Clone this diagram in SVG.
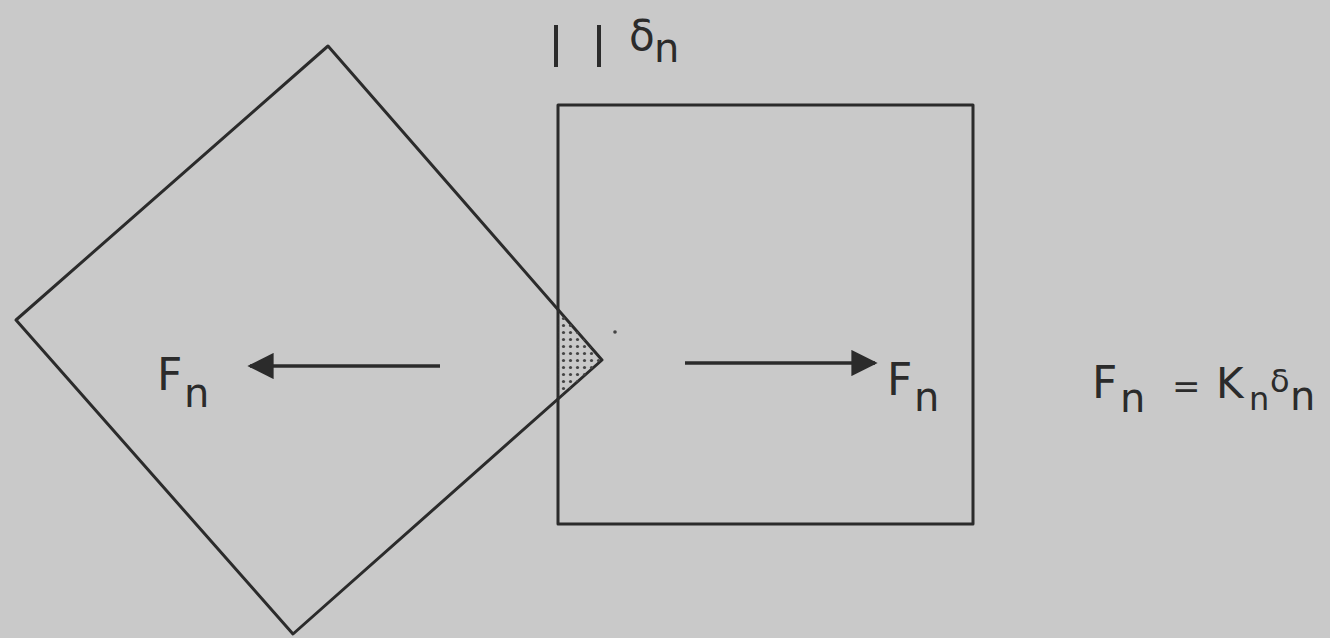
<svg xmlns="http://www.w3.org/2000/svg" width="1330" height="638" viewBox="0 0 1330 638">
  <defs>
    <style>
      .ln { fill: none; stroke: #2b2b2b; stroke-width: 3; stroke-linejoin: round; }
      .ar { stroke: #2b2b2b; stroke-width: 3.5; fill: none; }
      .t { font-family: "DejaVu Sans", "Liberation Sans", sans-serif; fill: #2b2b2b; }
      .big { font-size: 44px; }
      .sub { font-size: 40px; }
    </style>
    <pattern id="dots" width="7" height="7" patternUnits="userSpaceOnUse">
      <circle cx="3.5" cy="3.5" r="1.6" fill="#444"/>
    </pattern>
    <marker id="head" viewBox="0 0 10 10" refX="9" refY="5" markerWidth="9" markerHeight="7.5" markerUnits="strokeWidth" orient="auto">
      <path d="M0,0 L10,5 L0,10 z" fill="#2b2b2b"/>
    </marker>
  </defs>
  <rect width="1330" height="638" fill="#c9c9c9"/>

  <g id="diamond-block">
    <polygon class="ln" points="328,46 602,360 293,634 16,320"/>
  </g>

  <g id="square-block">
    <rect class="ln" x="558" y="105" width="415" height="419"/>
  </g>

  <g id="overlap">
    <polygon points="558,309 602,360 558,399" fill="url(#dots)"/>
    <circle cx="615" cy="332" r="1.8" fill="#444"/>
  </g>

  <g id="overlap-marker">
    <line x1="556" y1="25" x2="556" y2="67" stroke="#2b2b2b" stroke-width="4"/>
    <line x1="599" y1="25" x2="599" y2="67" stroke="#2b2b2b" stroke-width="4"/>
    <text class="t" x="629" y="50" font-size="42">δ</text>
    <text class="t sub" x="654" y="62">n</text>
  </g>

  <g id="connectors">
    <line class="ar" x1="440" y1="366" x2="250" y2="366" marker-end="url(#head)"/>
    <line class="ar" x1="685" y1="363" x2="875" y2="363" marker-end="url(#head)"/>
  </g>

  <g id="label-left">
    <text class="t big" x="157" y="390">F</text>
    <text class="t sub" x="184" y="407">n</text>
  </g>

  <g id="label-right">
    <text class="t big" x="887" y="395">F</text>
    <text class="t sub" x="914" y="411">n</text>
  </g>

  <g id="formula">
    <text class="t big" x="1092" y="398">F</text>
    <text class="t sub" x="1120" y="412">n</text>
    <text class="t" x="1172" y="398" font-size="34">=</text>
    <text class="t" x="1216" y="398" font-size="42">K</text>
    <text class="t" x="1249" y="410" font-size="32">n</text>
    <text class="t" x="1270" y="392" font-size="32">δ</text>
    <text class="t sub" x="1290" y="410">n</text>
  </g>
</svg>
